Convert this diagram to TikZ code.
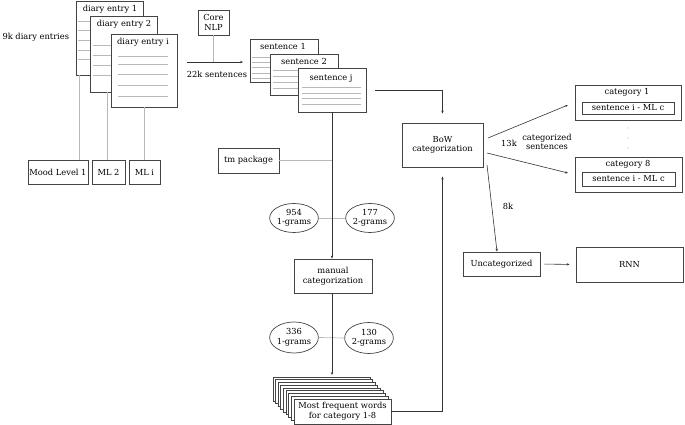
\documentclass[tikz,border=0pt]{standalone}
\usepackage{fontspec}
\setmainfont{DejaVu Serif}
\usetikzlibrary{arrows.meta,shapes.geometric,calc}
\definecolor{boxc}{HTML}{444444}
\definecolor{thin}{HTML}{B8B8B8}
\definecolor{arr}{HTML}{333333}
\begin{document}
\begin{tikzpicture}[x=1pt,y=-1pt,
  every node/.style={font=\fontsize{8.3}{9.6}\selectfont, text=black},
  bx/.style={draw=boxc, line width=0.8pt, fill=white, inner sep=0pt, align=center},
  doc/.style={bx},
  ell/.style={draw=boxc, line width=0.7pt, ellipse, inner sep=0pt, align=center},
  gl/.style={draw=thin, line width=0.7pt},
  ar/.style={draw=arr, line width=0.6pt, -{Stealth[length=3pt,width=2.4pt]}},
  ln/.style={draw=arr, line width=0.6pt}]
\useasboundingbox (0,0) rectangle (685,425);

% diary entries
\node[doc, minimum width=67, minimum height=74] (e1) at (109.5,38) {};
\node[anchor=north] (t1) at (110,2) {diary entry 1};
\foreach \y in {21,30,40,50,59} \draw[gl] (78,\y) -- (141,\y);
\node[doc, minimum width=67, minimum height=76] (e2) at (123.5,54) {};
\node[anchor=north] (t2) at (124,17) {diary entry 2};
\foreach \y in {45,55,65,75} \draw[gl] (93,\y) -- (154,\y);
\node[doc, minimum width=66, minimum height=73] (ei) at (144,70.5) {};
\node[anchor=north] (ti) at (143,35) {diary entry i};
\foreach \y in {56,64,74,85,96} \draw[gl] (118,\y) -- (168,\y);
\node[anchor=west] (nk) at (-1,37) {9k diary entries};

% mood levels
\node[bx, minimum width=60, minimum height=24] (ml1) at (58,172.5) {Mood Level 1};
\node[bx, minimum width=33, minimum height=24] (ml2) at (108.5,172.5) {ML 2};
\node[bx, minimum width=31, minimum height=24] (mli) at (144.5,172.5) {ML i};
\draw[gl] (79,0 |- e1.south) -- (79,0 |- ml1.north);
\draw[gl] (107,0 |- e2.south) -- (107,0 |- ml2.north);
\draw[gl] (144.5,0 |- ei.south) -- (mli.north);

% Core NLP
\node[bx, minimum width=31, minimum height=25] (nlp) at (213.5,22.5) {Core\\NLP};
\coordinate (a0) at (187,62);
\coordinate (a1) at (243,62);
\draw[ar] (a0) -- (a1);
\draw[gl] (nlp.south) -- (nlp.south |- a0);
\node (k22) at (217,74) {22k sentences};

% sentences
\node[doc, minimum width=68, minimum height=43] (s1) at (284,60.5) {};
\node[anchor=north] (st1) at (283,40) {sentence 1};
\foreach \y in {57,62,67,73,78} \draw[gl] (252,\y) -- (316,\y);
\node[doc, minimum width=68, minimum height=41] (s2) at (304,74.5) {};
\node[anchor=north] (st2) at (304,55) {sentence 2};
\foreach \y in {70,76,82,88} \draw[gl] (273,\y) -- (336,\y);
\node[doc, minimum width=68, minimum height=44] (sj) at (332,90) {};
\node[anchor=north] (stj) at (331,71) {sentence j};
\foreach \y in {87,93,98,104} \draw[gl] (302,\y) -- (361,\y);

% tm package
\node[bx, minimum width=61, minimum height=25] (tm) at (248.5,160.5) {tm package};
\draw[gl] (tm.east) -- (332,160.5);

% n-gram ellipses
\node[ell, minimum width=41, minimum height=29] (g954) at (294,218) {954\\1-grams};
\node[ell, minimum width=43, minimum height=29] (g177) at (370,218) {177\\2-grams};
\draw[gl] (g954.east) -- (g177.west);

% manual categorization
\node[bx, minimum width=78, minimum height=34] (man) at (333,276) {manual\\categorization};
\draw[ar] (sj.south -| 332,0) -- (man.north -| 332,0);

\node[ell, minimum width=42, minimum height=31] (g336) at (294,337.5) {336\\1-grams};
\node[ell, minimum width=43, minimum height=31] (g130) at (369,338) {130\\2-grams};
\draw[gl] (g336.east) -- (g130.west);

% stack
\foreach \i in {0,...,7} {
  \draw[draw=boxc, line width=0.7pt, fill=white] ({273+2.6*\i},{377+2.75*\i}) rectangle ++(97,24);
}
\node[bx, minimum width=97, minimum height=25] (mf) at (342.5,411.5) {Most frequent words\\for category 1-8};
\draw[ar] (man.south -| 332,0) -- (332,375);

% BoW
\node[bx, minimum width=81, minimum height=44] (bow) at (442.5,145) {BoW\\categorization};
\draw[ar, shorten <=9pt, shorten >=9pt] (sj.east |- 0,90) -| (bow.north);
\draw[ar, shorten <=0pt, shorten >=9pt] (mf.east) -| (bow.south);

% categories
\node[bx, minimum width=106, minimum height=35] (c1) at (628,102.5) {};
\node (c1t) at (627,92) {category 1};
\node[bx, minimum width=92, minimum height=12] (c1i) at (628,108) {sentence i - ML c};
\node[bx, minimum width=107, minimum height=35] (c8) at (628.5,174.5) {};
\node (c8t) at (628,164) {category 8};
\node[bx, minimum width=93, minimum height=14] (c8i) at (628.5,179) {sentence i - ML c};
\foreach \y in {128,138,148} \fill[gray] (628,\y) circle (0.5);
\coordinate (b1) at (488,138);
\coordinate (b2) at (487,153);
\draw[ar] (b1) -- (568,105);
\draw[ar] (b2) -- (568,173);
\node (k13) at (509,143) {13k};
\node[align=center] (cs) at (547,142) {categorized\\sentences};

% uncategorized
\node[bx, minimum width=77, minimum height=24] (unc) at (501.5,264) {Uncategorized};
\node[bx, minimum width=107, minimum height=35] (rnn) at (629.5,264.5) {RNN};
\draw[ar] (487,165) -- (unc.north -| 497,0);
\node (k8) at (508,206) {8k};
\draw[ar, shorten <=4pt, shorten >=6pt] (unc.east) -- (rnn.west);
\end{tikzpicture}
\end{document}
